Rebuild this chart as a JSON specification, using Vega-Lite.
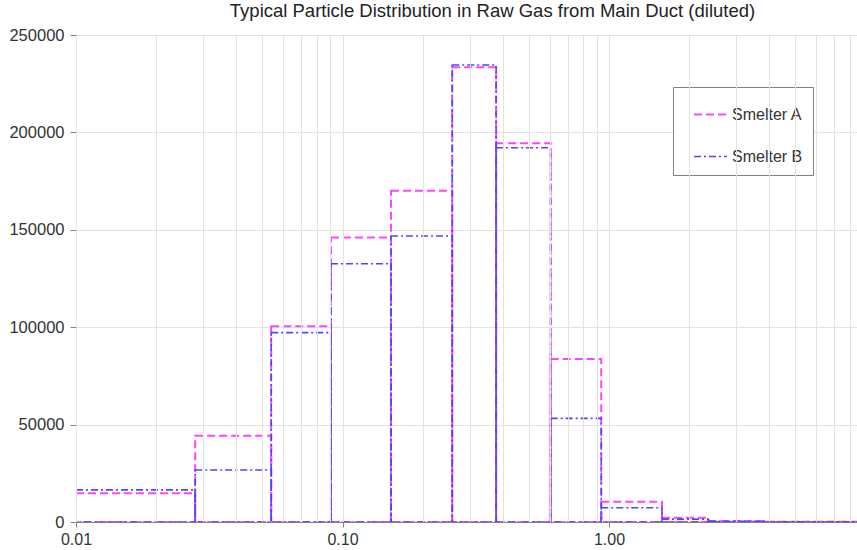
{
  "$schema": "https://vega.github.io/schema/vega-lite/v6.json",
  "width": 781,
  "height": 487,
  "autosize": "none",
  "padding": {"left": 76, "top": 35, "right": 0, "bottom": 28},
  "background": "white",
  "config": {
    "view": {"stroke": null}
  },
  "title": {
    "text": "Typical Particle Distribution in Raw Gas from Main Duct (diluted)",
    "font": "Liberation Sans",
    "fontSize": 18.5,
    "fontWeight": "normal",
    "color": "#222222",
    "dx": 26,
    "offset": 7
  },
  "data": {
    "values": [
      {"series": "Smelter A", "lo": 0.01, "hi": 0.028, "value": 14700},
      {"series": "Smelter A", "lo": 0.028, "hi": 0.054, "value": 44300},
      {"series": "Smelter A", "lo": 0.054, "hi": 0.0905, "value": 100500},
      {"series": "Smelter A", "lo": 0.0905, "hi": 0.152, "value": 146000},
      {"series": "Smelter A", "lo": 0.152, "hi": 0.258, "value": 170100},
      {"series": "Smelter A", "lo": 0.258, "hi": 0.377, "value": 233400},
      {"series": "Smelter A", "lo": 0.377, "hi": 0.604, "value": 194400},
      {"series": "Smelter A", "lo": 0.604, "hi": 0.935, "value": 83700},
      {"series": "Smelter A", "lo": 0.935, "hi": 1.58, "value": 10400},
      {"series": "Smelter A", "lo": 1.58, "hi": 2.36, "value": 2200},
      {"series": "Smelter A", "lo": 2.36, "hi": 3.9, "value": 500},
      {"series": "Smelter A", "lo": 3.9, "hi": 10, "value": 150},
      {"series": "Smelter B", "lo": 0.01, "hi": 0.028, "value": 16500},
      {"series": "Smelter B", "lo": 0.028, "hi": 0.054, "value": 26700},
      {"series": "Smelter B", "lo": 0.054, "hi": 0.0905, "value": 97200},
      {"series": "Smelter B", "lo": 0.0905, "hi": 0.152, "value": 132600},
      {"series": "Smelter B", "lo": 0.152, "hi": 0.258, "value": 146800},
      {"series": "Smelter B", "lo": 0.258, "hi": 0.377, "value": 234600},
      {"series": "Smelter B", "lo": 0.377, "hi": 0.604, "value": 192150},
      {"series": "Smelter B", "lo": 0.604, "hi": 0.935, "value": 53200},
      {"series": "Smelter B", "lo": 0.935, "hi": 1.58, "value": 7300},
      {"series": "Smelter B", "lo": 1.58, "hi": 2.36, "value": 1500},
      {"series": "Smelter B", "lo": 2.36, "hi": 3.9, "value": 400},
      {"series": "Smelter B", "lo": 3.9, "hi": 10, "value": 150}
    ]
  },
  "mark": {"type": "bar", "filled": false, "clip": true},
  "encoding": {
    "x": {
      "field": "lo",
      "type": "quantitative",
      "scale": {"type": "log", "domain": [0.01, 8.52], "nice": false},
      "axis": {
        "title": null,
        "zindex": 1,
        "values": [0.01, 0.02, 0.03, 0.04, 0.05, 0.06, 0.07, 0.08, 0.09, 0.1, 0.2, 0.3, 0.4, 0.5, 0.6, 0.7, 0.8, 0.9, 1, 2, 3, 4, 5, 6, 7, 8],
        "labelExpr": "abs(log(datum.value)/LN10 - round(log(datum.value)/LN10)) < 0.001 ? format(datum.value, '.2f') : ''",
        "labelFont": "Liberation Sans",
        "labelFontSize": 16,
        "labelColor": "#333333",
        "labelPadding": 4,
        "labelFlush": false,
        "labelOverlap": false,
        "tickSize": 5,
        "tickColor": "#808080",
        "tickOpacity": {"condition": {"test": "abs(log(datum.value)/LN10 - round(log(datum.value)/LN10)) < 0.001", "value": 1}, "value": 0},
        "domainColor": "#808080",
        "gridColor": "#e2e2e2",
        "gridWidth": 1
      }
    },
    "x2": {"field": "hi"},
    "y": {
      "field": "value",
      "type": "quantitative",
      "scale": {"domain": [0, 250000], "nice": false},
      "axis": {
        "title": null,
        "values": [0, 50000, 100000, 150000, 200000, 250000],
        "format": "d",
        "labelFont": "Liberation Sans",
        "labelFontSize": 16.5,
        "labelColor": "#333333",
        "labelPadding": 6,
        "tickSize": 6,
        "tickColor": "#808080",
        "domainColor": "#808080",
        "gridColor": "#e2e2e2",
        "gridWidth": 1
      }
    },
    "y2": {"datum": 0},
    "color": {
      "field": "series",
      "type": "nominal",
      "scale": {"domain": ["Smelter A", "Smelter B"], "range": ["#ff44ff", "#4848ff"]},
      "legend": {
        "title": null,
        "orient": "none",
        "legendX": 597,
        "legendY": 52,
        "padding": 10,
        "symbolOffset": 10,
        "rowPadding": 16,
        "symbolType": "stroke",
        "symbolSize": 1089,
        "symbolStrokeWidth": 2,
        "labelFont": "Liberation Sans",
        "labelFontSize": 16,
        "labelColor": "#333333",
        "labelOffset": 4,
        "strokeColor": "#808080",
        "fillColor": "white"
      }
    },
    "strokeDash": {
      "field": "series",
      "type": "nominal",
      "scale": {"domain": ["Smelter A", "Smelter B"], "range": [[8, 4], [7, 3, 2, 3]]}
    },
    "strokeWidth": {
      "field": "series",
      "type": "nominal",
      "scale": {"domain": ["Smelter A", "Smelter B"], "range": [2, 1.6]},
      "legend": null
    }
  }
}
